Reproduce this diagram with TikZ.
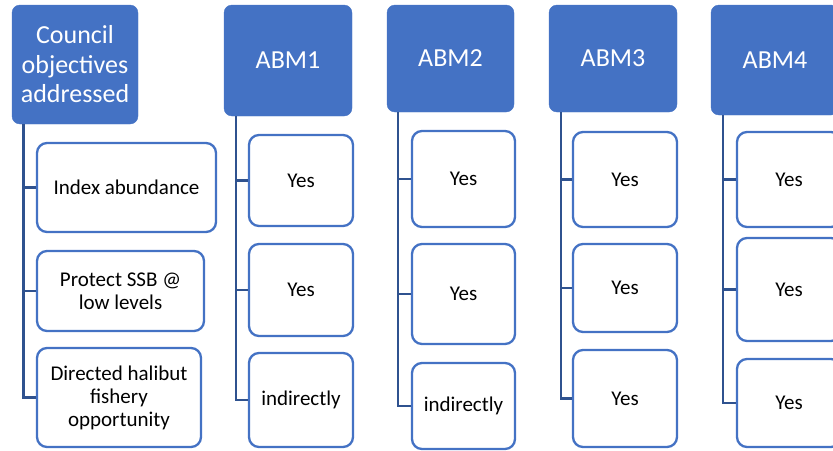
\documentclass[tikz,border=0pt]{standalone}
\usepackage{fontspec}
\setmainfont{Carlito}
\definecolor{hdrblue}{HTML}{4472C4}
\definecolor{linkblue}{HTML}{2F528F}
\tikzset{
  hdr/.style={draw=hdrblue, fill=hdrblue, rounded corners=8pt, text=white, align=center,
    font=\fontsize{26}{29.5}\selectfont, inner sep=0pt},
  item/.style={draw=hdrblue, line width=2.3pt, fill=white, rounded corners=10pt, align=center,
    font=\fontsize{21}{23}\selectfont, inner sep=0pt},
  link/.style={linkblue, line width=2.5pt},
}

\begin{document}
\begin{tikzpicture}[x=1pt, y=-1pt]
    \clip (0,0) rectangle (833,450);

    \node (hdr0) at (75,64.5) [hdr, minimum width=126pt, minimum height=119pt] {Council\\objectives\\addressed};
    \node (c01) at (126.5,187.5) [item, minimum width=179pt, minimum height=89pt] {Index abundance};
    \node (c02) at (120.5,291) [item, minimum width=167pt, minimum height=80pt] {Protect SSB @\\low levels};
    \node (c03) at (119,397.5) [item, minimum width=164pt, minimum height=99pt] {Directed halibut\\fishery\\opportunity};
    \draw[link] ([xshift=11.5pt]hdr0.south west) |- (c01.west);
    \draw[link] ([xshift=11.5pt]hdr0.south west) |- (c02.west);
    \draw[link] ([xshift=11.5pt]hdr0.south west) |- (c03.west);

    \node (hdr1) at (288,60.5) [hdr, minimum width=128pt, minimum height=111pt] {ABM1};
    \node (a11) at (301,180.5) [item, minimum width=104pt, minimum height=91pt] {Yes};
    \node (a12) at (301,290) [item, minimum width=104pt, minimum height=92pt] {Yes};
    \node (a13) at (301,400) [item, minimum width=104pt, minimum height=94pt] {indirectly};
    \draw[link] ([xshift=12pt]hdr1.south west) |- (a11.west);
    \draw[link] ([xshift=12pt]hdr1.south west) |- (a12.west);
    \draw[link] ([xshift=12pt]hdr1.south west) |- (a13.west);

    \node (hdr2) at (450.5,58.5) [hdr, minimum width=127pt, minimum height=107pt] {ABM2};
    \node (a21) at (463.5,179) [item, minimum width=103pt, minimum height=96pt] {Yes};
    \node (a22) at (463.5,294) [item, minimum width=103pt, minimum height=100pt] {Yes};
    \node (a23) at (463.5,406) [item, minimum width=103pt, minimum height=86pt] {indirectly};
    \draw[link] ([xshift=11pt]hdr2.south west) |- (a21.west);
    \draw[link] ([xshift=11pt]hdr2.south west) |- (a22.west);
    \draw[link] ([xshift=11pt]hdr2.south west) |- (a23.west);

    \node (hdr3) at (613,58.5) [hdr, minimum width=128pt, minimum height=107pt] {ABM3};
    \node (a31) at (625,179.5) [item, minimum width=104pt, minimum height=95pt] {Yes};
    \node (a32) at (625,288) [item, minimum width=104pt, minimum height=88pt] {Yes};
    \node (a33) at (625,398.5) [item, minimum width=104pt, minimum height=97pt] {Yes};
    \draw[link] ([xshift=12pt]hdr3.south west) |- (a31.west);
    \draw[link] ([xshift=12pt]hdr3.south west) |- (a32.west);
    \draw[link] ([xshift=12pt]hdr3.south west) |- (a33.west);

    \node (hdr4) at (775,60) [hdr, minimum width=128pt, minimum height=110pt] {ABM4};
    \node (a41) at (789,179.5) [item, minimum width=104pt, minimum height=95pt] {Yes};
    \node (a42) at (789,289.5) [item, minimum width=104pt, minimum height=103pt] {Yes};
    \node (a43) at (789,403) [item, minimum width=104pt, minimum height=88pt] {Yes};
    \draw[link] ([xshift=12pt]hdr4.south west) |- (a41.west);
    \draw[link] ([xshift=12pt]hdr4.south west) |- (a42.west);
    \draw[link] ([xshift=12pt]hdr4.south west) |- (a43.west);

\end{tikzpicture}
\end{document}
